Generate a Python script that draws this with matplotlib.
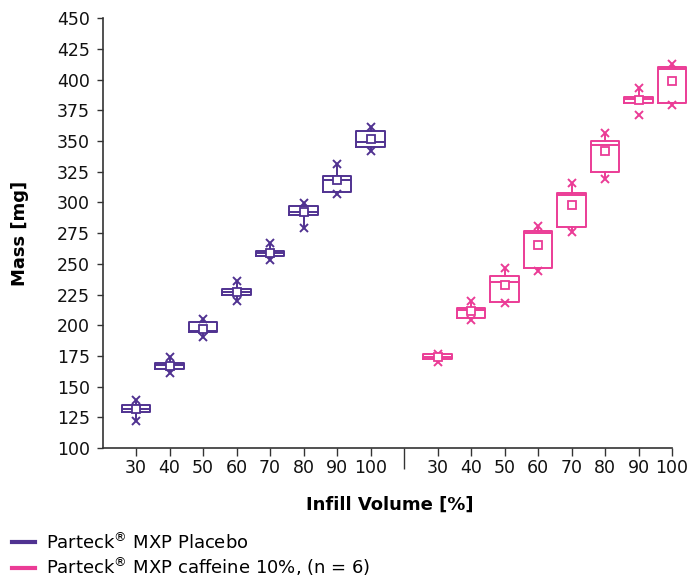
import matplotlib
matplotlib.use("Agg")
import matplotlib.pyplot as plt
from matplotlib.lines import Line2D

plt.rcParams["font.family"] = "DejaVu Sans"

infill = [30, 40, 50, 60, 70, 80, 90, 100]

# Placebo
pla_min = [121.8, 161.2, 190.2, 220.0, 253.4, 279.0, 306.9, 342.2]
pla_q1 = [129.2, 164.1, 194.3, 224.4, 256.4, 289.8, 308.8, 345.4]
pla_med = [131.8, 168.0, 195.3, 226.9, 258.6, 292.5, 318.3, 349.5]
pla_mean = [131.8, 166.9, 196.9, 226.9, 258.6, 292.5, 318.3, 352.0]
pla_q3 = [135.0, 169.5, 202.4, 229.6, 260.7, 297.4, 321.8, 358.5]
pla_max = [139.2, 174.4, 204.9, 236.1, 266.8, 299.8, 331.4, 361.7]
pla_whislo = pla_min
pla_whishi = pla_max

# caffeine 10%
caf_min = [170.4, 204.4, 217.9, 244.2, 276.0, 319.1, 371.0, 379.2]
caf_q1 = [172.3, 205.7, 219.0, 246.4, 280.0, 325.1, 380.8, 380.8]
caf_med = [174.4, 212.4, 235.6, 274.9, 305.9, 346.6, 384.0, 408.7]
caf_mean = [174.4, 211.9, 233.1, 265.6, 298.2, 341.7, 383.5, 398.7]
caf_q3 = [176.4, 214.3, 240.2, 276.8, 308.0, 350.1, 386.2, 410.6]
caf_max = [176.9, 220.0, 246.4, 281.1, 315.6, 356.8, 393.0, 412.8]
caf_whislo = [170.4, 204.4, 217.9, 244.2, 276.0, 319.1, 380.8, 379.2]
caf_whishi = caf_max

PURPLE = "#503291"
PINK = "#EB3C96"
AXC = "#333333"

fig = plt.figure(figsize=(6.89, 5.80), dpi=100)
ax = fig.add_axes([102.5 / 689, 1 - 448 / 580, (672 - 102.5) / 689, (448 - 18.3) / 580])


def draw_group(positions, mn, q1, med, mean, q3, mx, wlo, whi, color):
    stats = []
    for i in range(len(positions)):
        stats.append(dict(med=med[i], q1=q1[i], q3=q3[i], whislo=wlo[i], whishi=whi[i],
                          mean=mean[i], fliers=[mn[i], mx[i]]))
    lp = dict(color=color, linewidth=1.4)
    ax.bxp(stats, positions=positions, widths=0.84, showcaps=False, showmeans=True,
           showfliers=True, boxprops=lp, whiskerprops=lp, medianprops=lp,
           meanprops=dict(marker="s", markerfacecolor="white", markeredgecolor=color,
                          markersize=5.5, markeredgewidth=1.3),
           flierprops=dict(marker="x", markeredgecolor=color, markersize=5.5,
                           markeredgewidth=1.4),
           manage_ticks=False)
    for art in ax.get_children():
        try:
            art.set_clip_on(False)
        except Exception:
            pass


pos1 = list(range(1, 9))
pos2 = list(range(10, 18))
draw_group(pos1, pla_min, pla_q1, pla_med, pla_mean, pla_q3, pla_max,
           pla_whislo, pla_whishi, PURPLE)
draw_group(pos2, caf_min, caf_q1, caf_med, caf_mean, caf_q3, caf_max,
           caf_whislo, caf_whishi, PINK)

ax.set_xlim(0, 17)
ax.set_ylim(100, 450)
ax.set_yticks(range(100, 451, 25))
ax.set_xticks(pos1 + pos2)
ax.set_xticklabels([str(v) for v in infill] * 2)
ax.set_xticks([9], minor=True)

for s in ["top", "right"]:
    ax.spines[s].set_visible(False)
for s in ["left", "bottom"]:
    ax.spines[s].set_color(AXC)
    ax.spines[s].set_linewidth(1.2)

ax.tick_params(axis="y", which="major", direction="out", length=4, width=1,
               color=AXC, labelsize=12.5, pad=5, labelcolor="#111111")
ax.tick_params(axis="x", which="major", direction="out", length=6, width=1,
               color=AXC, labelsize=12.5, pad=2, labelcolor="#111111")
ax.tick_params(axis="x", which="minor", direction="out", length=15, width=1, color=AXC)

ax.set_ylabel("Mass [mg]", fontsize=13, fontweight="bold", labelpad=20)
fig.text(390 / 689, 1 - 505 / 580, "Infill Volume [%]", fontsize=13,
         fontweight="bold", ha="center", va="center")

handles = [Line2D([], [], color=PURPLE, lw=3), Line2D([], [], color=PINK, lw=3)]
labels = ["Parteck$^{®}$ MXP Placebo", "Parteck$^{®}$ MXP caffeine 10%, (n = 6)"]
fig.legend(handles, labels, loc="upper left", bbox_to_anchor=(12 / 689, 1 - 532 / 580),
           frameon=False, fontsize=13, handlelength=1.3, handletextpad=0.6,
           labelspacing=0.15, borderaxespad=0, borderpad=0)

fig.savefig("out.png", dpi=100)
